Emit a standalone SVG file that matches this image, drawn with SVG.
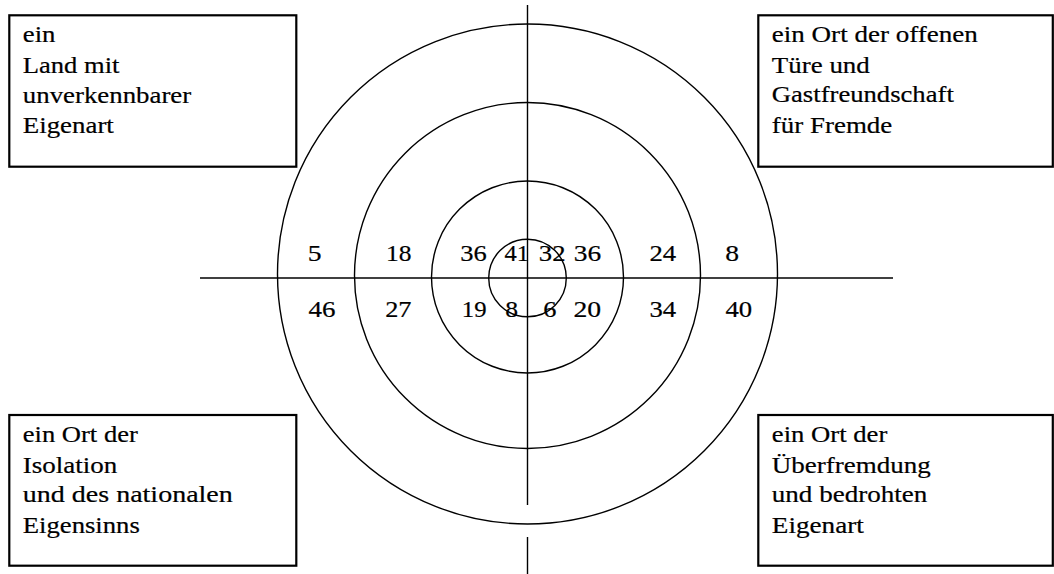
<svg xmlns="http://www.w3.org/2000/svg" width="1054" height="574" viewBox="0 0 1054 574">
<style>
  .bg { fill: #ffffff; }
  .box { fill: #ffffff; stroke: #000000; stroke-width: 2.2; }
  .ring { fill: none; stroke: #000000; stroke-width: 1.4; }
  .axis { stroke: #000000; stroke-width: 1.4; fill: none; }
  text { font-family: "Liberation Serif", "Times New Roman", serif; font-size: 23px; fill: #000000; stroke: #000000; stroke-width: 0.2; }
</style>
<rect class="bg" x="0" y="0" width="1054" height="574"/>
<g id="connectors">
  <circle class="ring" cx="527.5" cy="274" r="250"/>
  <circle class="ring" cx="527.5" cy="275.5" r="173"/>
  <circle class="ring" cx="527.5" cy="277" r="96"/>
  <circle class="ring" cx="527.5" cy="278" r="38.8"/>
  <line class="axis" x1="200" y1="278" x2="893" y2="278"/>
  <line class="axis" x1="527.5" y1="5" x2="527.5" y2="505"/>
  <line class="axis" x1="527.5" y1="537" x2="527.5" y2="574"/>
</g>
<g id="values">
  <text x="307.8" y="261" textLength="13.8" lengthAdjust="spacingAndGlyphs">5</text>
  <text x="386" y="261" textLength="25.5" lengthAdjust="spacingAndGlyphs">18</text>
  <text x="460.2" y="261" textLength="26.5" lengthAdjust="spacingAndGlyphs">36</text>
  <text x="504.5" y="261" textLength="24.5" lengthAdjust="spacingAndGlyphs">41</text>
  <text x="538.8" y="261" textLength="26.7" lengthAdjust="spacingAndGlyphs">32</text>
  <text x="573.8" y="261" textLength="27.4" lengthAdjust="spacingAndGlyphs">36</text>
  <text x="649.5" y="261" textLength="26.7" lengthAdjust="spacingAndGlyphs">24</text>
  <text x="725.3" y="261" textLength="13.8" lengthAdjust="spacingAndGlyphs">8</text>
  <text x="308.5" y="317" textLength="27" lengthAdjust="spacingAndGlyphs">46</text>
  <text x="385.2" y="317" textLength="26.3" lengthAdjust="spacingAndGlyphs">27</text>
  <text x="461.8" y="317" textLength="24.7" lengthAdjust="spacingAndGlyphs">19</text>
  <text x="505.3" y="317" textLength="12.8" lengthAdjust="spacingAndGlyphs">8</text>
  <text x="543.3" y="317" textLength="13.2" lengthAdjust="spacingAndGlyphs">6</text>
  <text x="573.5" y="317" textLength="27.7" lengthAdjust="spacingAndGlyphs">20</text>
  <text x="649.5" y="317" textLength="26.7" lengthAdjust="spacingAndGlyphs">34</text>
  <text x="725.5" y="317" textLength="26.7" lengthAdjust="spacingAndGlyphs">40</text>
</g>
<g id="node-top-left">
  <rect class="box" x="9.3" y="15.3" width="287" height="151.4"/>
  <text x="22.8" y="41.7" textLength="32.7" lengthAdjust="spacingAndGlyphs">ein</text>
  <text x="22.8" y="73" textLength="96.7" lengthAdjust="spacingAndGlyphs">Land mit</text>
  <text x="22.8" y="103" textLength="168.4" lengthAdjust="spacingAndGlyphs">unverkennbarer</text>
  <text x="22.8" y="133.3" textLength="91" lengthAdjust="spacingAndGlyphs">Eigenart</text>
</g>
<g id="node-top-right">
  <rect class="box" x="758.3" y="15.3" width="294.5" height="151.4"/>
  <text x="771.8" y="41.7" textLength="206" lengthAdjust="spacingAndGlyphs">ein Ort der offenen</text>
  <text x="771.8" y="72.7" textLength="98" lengthAdjust="spacingAndGlyphs">Türe und</text>
  <text x="771.8" y="101.7" textLength="182" lengthAdjust="spacingAndGlyphs">Gastfreundschaft</text>
  <text x="771.8" y="133.3" textLength="120.5" lengthAdjust="spacingAndGlyphs">für Fremde</text>
</g>
<g id="node-bottom-left">
  <rect class="box" x="9.3" y="415" width="287" height="150.7"/>
  <text x="22.8" y="441.7" textLength="115" lengthAdjust="spacingAndGlyphs">ein Ort der</text>
  <text x="22.8" y="472.7" textLength="94.5" lengthAdjust="spacingAndGlyphs">Isolation</text>
  <text x="22.8" y="501.7" textLength="210" lengthAdjust="spacingAndGlyphs">und des nationalen</text>
  <text x="22.8" y="533.3" textLength="117" lengthAdjust="spacingAndGlyphs">Eigensinns</text>
</g>
<g id="node-bottom-right">
  <rect class="box" x="758.3" y="415" width="294.5" height="150.7"/>
  <text x="771.8" y="441.7" textLength="115.5" lengthAdjust="spacingAndGlyphs">ein Ort der</text>
  <text x="771.8" y="472.7" textLength="159" lengthAdjust="spacingAndGlyphs">Überfremdung</text>
  <text x="771.8" y="501.7" textLength="155.5" lengthAdjust="spacingAndGlyphs">und bedrohten</text>
  <text x="771.8" y="533.3" textLength="92" lengthAdjust="spacingAndGlyphs">Eigenart</text>
</g>
</svg>
